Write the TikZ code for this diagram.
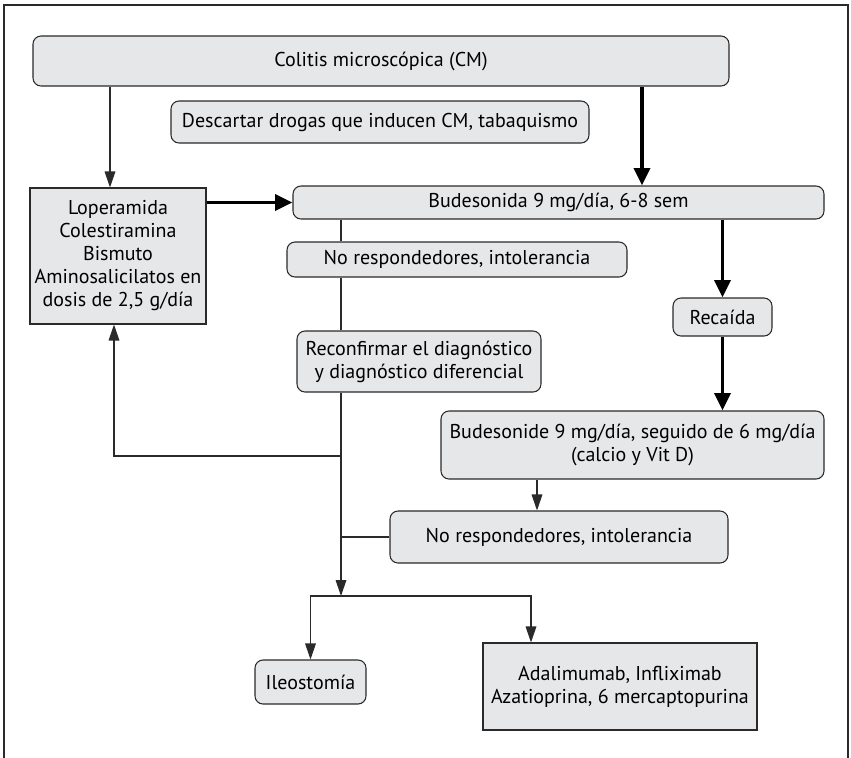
\documentclass[tikz,border=0pt]{standalone}
\usepackage{fontspec}
\setmainfont{PT Sans}
\usetikzlibrary{arrows.meta}
\definecolor{boxgray}{HTML}{E6E7E8}
\definecolor{inkline}{HTML}{2A2A2A}
\begin{document}
\begin{tikzpicture}[x=0.75pt,y=-0.75pt,
  every node/.style={font=\fontsize{15}{17.25}\selectfont},
  % span={x1}{y1}{x2}{y2}: place a box over the given corners
  span/.style n args={4}{minimum width={((#3)-(#1))*0.75pt},
    minimum height={((#4)-(#2))*0.75pt}, at={({((#1)+(#3))/2},{((#2)+(#4))/2})}},
  box/.style={draw=inkline, fill=boxgray, line width=0.8pt, rounded corners=6pt,
    inner sep=0pt, align=center},
  sqbox/.style={box, rounded corners=0pt},
  plainline/.style={draw=inkline, line width=0.9pt},
  lightarrow/.style={plainline, -{Triangle[length=12pt,width=8pt]}},
  heavyarrow/.style={draw=black, line width=2.6pt, -{Triangle[length=13pt,width=12pt]}}]

% page size and open frame
\useasboundingbox (0,0) rectangle (851,758);
\draw[inkline, line width=1.1pt] (4,758) -- (4,5) -- (848,5) -- (848,758);

% boxes
\node[box, span={33}{36}{729}{86}] (cm) {Colitis microscópica (CM)};
\node[box, span={171}{101}{589}{143}] (desc) {Descartar drogas que inducen CM, tabaquismo};
\node[box, span={293}{186}{824}{219}] (bud) {Budesonida 9 mg/día, 6-8 sem};
\node[sqbox, span={30}{188}{206}{324}] (lop) {Loperamida\\Colestiramina\\Bismuto\\Aminosalicilatos en\\dosis de 2,5 g/día};
\node[box, span={287}{242}{627}{277}] (nr1) {No respondedores, intolerancia};
\node[box, span={673}{298}{772}{336}] (rec) {Recaída};
\node[box, span={297}{331}{541}{392}] (rc) {Reconfirmar el diagnóstico\\y diagnóstico diferencial};
\node[box, span={441}{411}{824}{479}] (bud2) {Budesonide 9 mg/día, seguido de 6 mg/día\\(calcio y Vit D)};
\node[box, span={390}{511}{728}{563}] (nr2) {No respondedores, intolerancia};
\node[box, span={255}{660}{366}{704}] (ileo) {Ileostomía};
\node[sqbox, span={483}{643}{757}{730}] (ada) {Adalimumab, Infliximab\\Azatioprina, 6 mercaptopurina};

% reference columns and junctions for the connectors
\coordinate (xl1) at (110,0);
\coordinate (xl2) at (114,0);
\coordinate (xr) at (642,0);
\coordinate (xb) at (537,0);
\coordinate (xad) at (531,0);
\coordinate (ret) at (341,456);
\coordinate (spine) at (341,596);

% connectors
\draw[lightarrow] (cm.south -| xl1) -- (lop.north -| xl1);
\draw[heavyarrow] (cm.south -| xr) -- (bud.north -| xr);
\draw[heavyarrow] (lop.east |- bud.west) -- (bud.west);
\draw[heavyarrow] (bud.south -| rec.north) -- (rec.north);
\draw[heavyarrow] (rec.south) -- (bud2.north -| rec.south);
\draw[plainline] (bud.south -| spine) -- (nr1.north -| spine);
\draw[plainline] (nr1.south -| spine) -- (rc.north -| spine);
\draw[lightarrow] (rc.south -| spine) -- (spine);
\draw[lightarrow] (ret) -| (lop.south -| xl2);
\draw[lightarrow] (bud2.south -| xb) -- (nr2.north -| xb);
\draw[plainline] (nr2.west) -- (nr2.west -| spine);
\draw[lightarrow] (spine) -| (ileo.north);
\draw[lightarrow] (spine) -| (ada.north -| xad);
\end{tikzpicture}
\end{document}
